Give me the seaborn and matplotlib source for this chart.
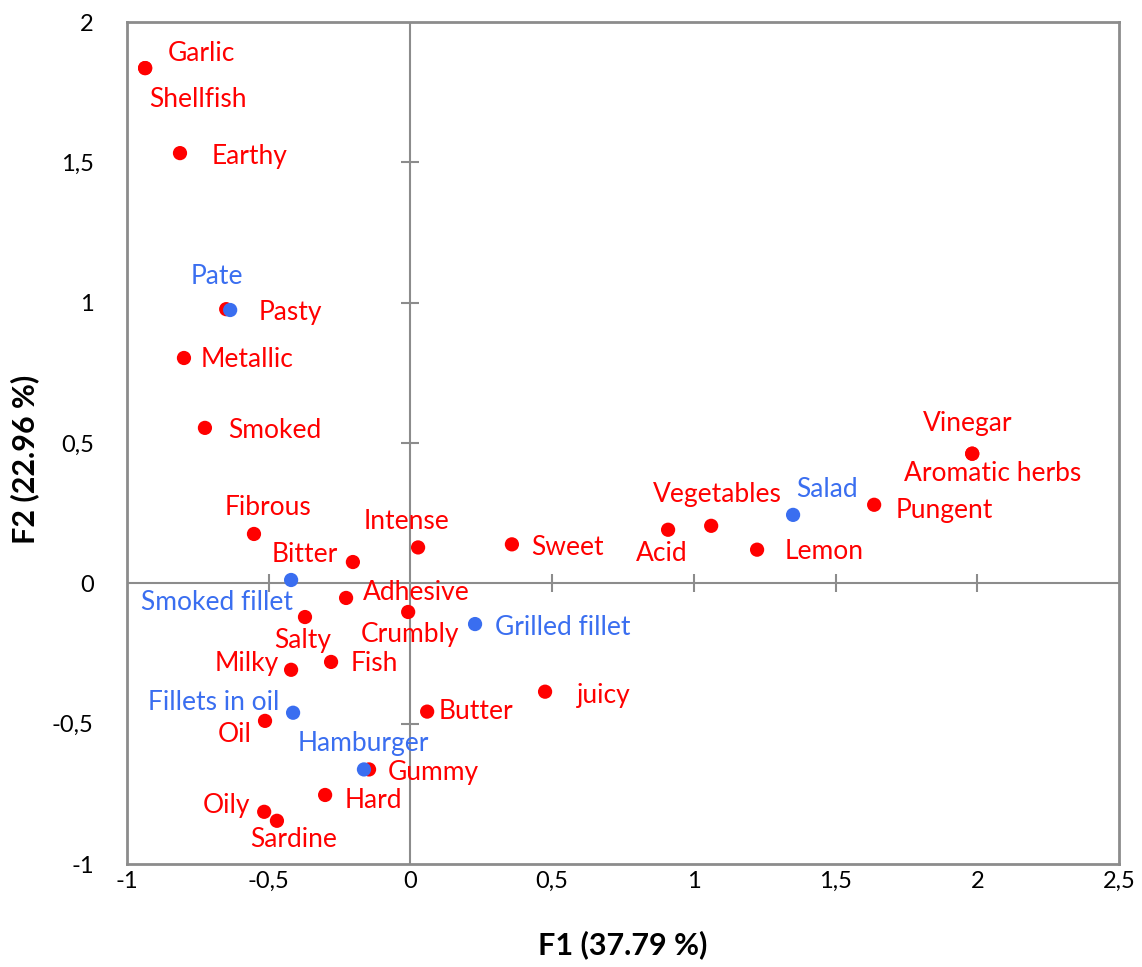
import matplotlib
matplotlib.use("Agg")
import matplotlib.pyplot as plt
import seaborn as sns
import pandas as pd

# Sensory attributes (variables) on the first two factors
attr_names = ["Garlic", "Shellfish", "Earthy", "Pasty", "Metallic", "Smoked", "Fibrous",
              "Bitter", "Intense", "Sweet", "Adhesive", "Crumbly", "Salty", "Fish", "Milky",
              "Oil", "Butter", "juicy", "Gummy", "Hard", "Oily", "Sardine", "Acid",
              "Vegetables", "Lemon", "Pungent", "Vinegar", "Aromatic herbs"]
attr_f1 = [-0.936, -0.936, -0.813, -0.650, -0.799, -0.725, -0.552,
           -0.203, 0.027, 0.358, -0.227, -0.008, -0.372, -0.280, -0.421,
           -0.513, 0.059, 0.475, -0.146, -0.301, -0.516, -0.471, 0.909,
           1.061, 1.223, 1.636, 1.982, 1.982]
attr_f2 = [1.836, 1.836, 1.533, 0.977, 0.803, 0.554, 0.176,
           0.076, 0.128, 0.139, -0.052, -0.102, -0.120, -0.280, -0.308,
           -0.490, -0.457, -0.386, -0.663, -0.754, -0.814, -0.846, 0.191,
           0.205, 0.120, 0.280, 0.462, 0.462]

# Products (observations)
prod_names = ["Pate", "Smoked fillet", "Grilled fillet", "Fillets in oil", "Hamburger", "Salad"]
prod_f1 = [-0.636, -0.421, 0.228, -0.414, -0.164, 1.350]
prod_f2 = [0.974, 0.012, -0.145, -0.461, -0.663, 0.244]

# Label placement: offset in pixels from the point and alignment
label_style = {
    "Garlic": (23, 15, "left"), "Shellfish": (4, -31, "left"), "Earthy": (32, -3, "left"),
    "Pasty": (32, -3, "left"), "Metallic": (17, -2, "left"), "Smoked": (23, -3, "left"),
    "Fibrous": (14, 26, "center"), "Bitter": (-15, 8, "right"), "Intense": (-12, 26, "center"),
    "Sweet": (19, -3, "left"), "Adhesive": (17, 5, "left"), "Crumbly": (2, -23, "center"),
    "Salty": (-2, -23, "center"), "Fish": (20, -2, "left"), "Milky": (-12, 6, "right"),
    "Oil": (-30, -14, "center"), "Butter": (11, 0, "left"), "juicy": (32, -4, "left"),
    "Gummy": (19, -3, "left"), "Hard": (20, -6, "left"), "Oily": (-14, 6, "right"),
    "Sardine": (17, -19, "center"), "Acid": (-6, -24, "center"), "Vegetables": (6, 31, "center"),
    "Lemon": (28, -2, "left"), "Pungent": (21, -6, "left"), "Vinegar": (-5, 30, "center"),
    "Aromatic herbs": (20, -20, "center"),
    "Pate": (-13, 34, "center"), "Smoked fillet": (2, -23, "right"), "Grilled fillet": (20, -3, "left"),
    "Fillets in oil": (-14, 10, "right"), "Hamburger": (-1, 26, "center"), "Salad": (34, 25, "center"),
}

RED = "#FF0000"
BLUE = "#3A6EF0"
GRID = "#8C8C8C"

df = pd.DataFrame({
    "F1": attr_f1 + prod_f1,
    "F2": attr_f2 + prod_f2,
    "name": attr_names + prod_names,
    "kind": ["Variables"] * len(attr_names) + ["Observations"] * len(prod_names),
})

sns.set_theme(style="white")
plt.rcParams["font.family"] = ["Lato", "DejaVu Sans"]

fig = plt.figure(figsize=(11.42, 9.67), dpi=100)
ax = fig.add_axes([0.1112, 0.1065, 0.8687, 0.8707])

sns.scatterplot(data=df, x="F1", y="F2", hue="kind", palette={"Variables": RED, "Observations": BLUE},
                s=105, edgecolor="none", legend=False, ax=ax, zorder=3)

for _, row in df.iterrows():
    dx, dy, ha = label_style[row["name"]]
    color = RED if row["kind"] == "Variables" else BLUE
    ax.annotate(row["name"], (row["F1"], row["F2"]), xytext=(dx, dy), textcoords="offset pixels",
                ha=ha, va="center", color=color, fontsize=19, zorder=4)

xticks = [-1, -0.5, 0, 0.5, 1, 1.5, 2, 2.5]
yticks = [-1, -0.5, 0, 0.5, 1, 1.5, 2]

ax.set_xlim(-1, 2.5)
ax.set_ylim(-1, 2)

# Zero lines through the origin with crossing tick marks
ax.axhline(0, color=GRID, lw=1.5, zorder=1)
ax.axvline(0, color=GRID, lw=1.5, zorder=1)
ax.scatter([v for v in xticks if -1 < v < 2.5 and v != 0], [0] * 5, marker="|", s=180,
           color=GRID, linewidths=1.5, zorder=1)
ax.scatter([0] * 4, [v for v in yticks if -1 < v < 2 and v != 0], marker="_", s=180,
           color=GRID, linewidths=1.5, zorder=1)

fmt = lambda v: ("%g" % v).replace(".", ",")
ax.set_xticks(xticks)
ax.set_xticklabels([fmt(v) for v in xticks])
ax.set_yticks(yticks)
ax.set_yticklabels([fmt(v) for v in yticks])
ax.tick_params(axis="both", length=0, labelsize=17, colors="black", labelcolor="black")
ax.tick_params(axis="x", pad=5)
ax.tick_params(axis="y", pad=24)

for sp in ax.spines.values():
    sp.set_color(GRID)
    sp.set_linewidth(2)

ax.set_xlabel("F1 (37.79 %)", fontsize=22, fontweight="bold", va="center", color="black")
ax.set_ylabel("F2 (22.96 %)", fontsize=22, fontweight="bold", va="center", color="black")
ax.xaxis.set_label_coords(0.4998, -0.0962)
ax.yaxis.set_label_coords(-0.1028, 0.4804)

fig.savefig("out.png", dpi=100)
